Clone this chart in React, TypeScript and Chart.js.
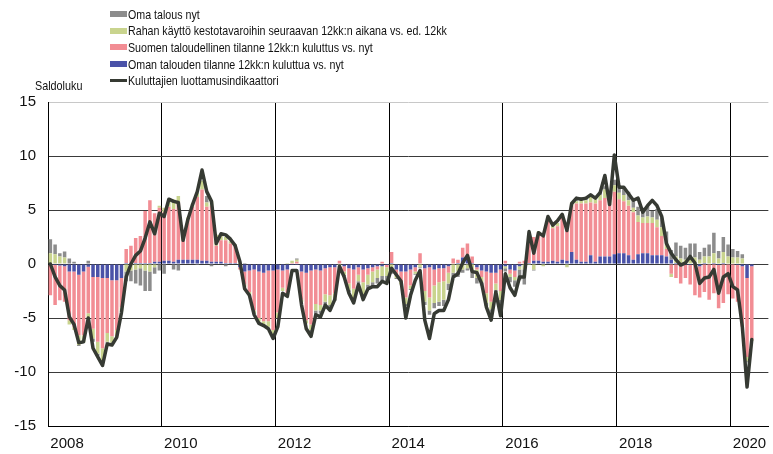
import React, { useEffect, useRef } from 'react';
import { Chart, registerables } from 'chart.js';
Chart.register(...registerables);

const startYear = 2008;
const axisMonths = 152;

// Kuluttajien luottamusindikaattori (line), Jan 2008 – May 2020
const confidence = [
  0.0, -1.2, -2.0, -2.4, -4.9, -5.6, -7.3, -7.2, -5.0, -7.8, -8.6, -9.4,
  -7.4, -7.5, -6.8, -4.5, -1.2, 0.0, 0.8, 1.2, 2.4, 3.9, 2.8, 4.7,
  4.4, 6.0, 5.8, 5.7, 2.2, 4.1, 5.5, 6.7, 8.7, 6.7, 5.8, 1.9,
  2.8, 2.7, 2.3, 1.7, 0.2, -2.3, -2.9, -4.7, -5.5, -5.7, -6.0, -6.9,
  -5.8, -2.7, -3.0, -0.6, -0.6, -3.8, -6.0, -6.7, -4.7, -4.9, -3.8, -4.3,
  -3.3, -0.2, -1.2, -2.7, -3.6, -1.9, -3.3, -2.3, -2.1, -2.1, -1.6, -1.8,
  -0.4, -1.0, -1.6, -5.0, -2.9, -1.5, -0.6, -5.2, -6.9, -4.6, -4.3, -4.3,
  -3.3, -1.2, -0.9, 0.1, 0.8, -0.7, -0.8, -1.8, -4.0, -5.2, -2.6, -4.8,
  -0.9, -2.2, -2.9, -1.2, -1.2, 3.0, 1.0, 2.9, 2.6, 4.4, 3.6, 4.0,
  4.6, 3.1, 5.6, 6.1, 6.0, 6.1, 6.4, 6.1, 6.6, 8.2, 5.5, 10.1,
  7.1, 7.1, 6.5, 5.9, 6.1, 4.8, 5.4, 5.9, 5.4, 4.4, 1.9, 1.0,
  0.4, -0.1, 0.1, 0.7, 0.1, -1.8, -1.3, -1.2, -0.5, -2.7, -1.2, -0.9,
  -2.1, -2.4, -5.8, -11.4, -7.0,
];

// Oman talouden tilanne 12kk:n kuluttua vs. nyt (blue)
const ownEconomyNext = [
  -0.1, -0.1, -0.15, -0.2, -0.7, -0.7, -1.0, -0.7, -0.25, -1.2, -1.2, -1.3,
  -1.3, -1.5, -1.5, -1.3, 0.1, 0.1, 0.1, 0.1, 0.1, 0.1, 0.2, 0.2,
  0.3, 0.3, 0.2, 0.4, 0.4, 0.4, 0.4, 0.4, 0.3, 0.3, 0.2, 0.2,
  0.2, 0.1, 0.1, 0.1, -0.3, -0.7, -0.6, -0.5, -0.7, -0.8, -0.6, -0.6,
  -0.5, -0.6, -0.5, -0.1, -0.1, -0.7, -0.8, -0.6, -0.5, -0.6, -0.4, -0.3,
  -0.3, 0.0, -0.2, -0.4, -0.5, -0.3, -0.5, -0.4, -0.3, -0.2, -0.2, -0.1,
  0.1, -0.5, -0.7, -0.7, -0.5, -0.3, 0.0, -0.4, -0.3, -0.5, -0.4, -0.4,
  -0.2, 0.0, 0.1, 0.6, 0.6, 0.1, -0.3, -0.6, -0.7, -0.8, -0.8, -0.5,
  -0.2, -0.5, -0.6, -0.2, 0.0, 0.1, 0.3, 0.3, 0.2, 0.2, 0.3, 0.2,
  0.4, 0.3, 1.1, 0.4, 0.2, 0.2, 0.8, 0.2, 0.7, 0.7, 0.7, 0.9,
  1.0, 1.0, 0.8, 0.4, 0.9, 1.0, 1.0, 0.8, 0.8, 0.8, 0.7, 0.4,
  0.1, 0.0, -0.1, -0.1, 0.0, -0.2, 0.1, 0.0, 0.1, -0.1, 0.1, 0.0,
  0.0, -0.1, -0.2, -1.3, -0.2,
];

// Suomen taloudellinen tilanne 12kk:n kuluttua vs. nyt (pink)
const finlandEconomyNext = [
  -2.8, -3.7, -3.2, -3.3, -4.5, -5.1, -5.6, -5.9, -4.3, -4.8, -6.0, -6.5,
  -5.1, -5.2, -4.6, -2.7, 1.3, 1.6, 2.3, 2.5, 4.8, 5.8, 4.5, 5.0,
  4.5, 5.0, 4.9, 5.3, 1.8, 3.7, 4.9, 5.8, 6.6, 5.0, 5.2, 1.5,
  2.0, 2.1, 1.8, 1.6, -0.2, -1.2, -2.0, -3.8, -4.3, -4.5, -4.7, -5.5,
  -4.0, -1.6, -2.2, 0.1, 0.2, -2.6, -4.4, -5.0, -3.2, -3.2, -2.4, -2.6,
  -2.4, 0.3, -0.5, -1.4, -1.8, -0.7, -1.2, -0.6, -0.4, -0.3, 0.2, -0.2,
  1.0, -0.5, -0.9, -2.4, -1.5, -0.4, 1.0, -2.1, -2.8, -1.5, -1.3, -1.2,
  -0.6, 0.5, 0.3, 0.9, 1.3, 0.6, -0.2, -0.6, -2.0, -2.7, -1.0, -2.0,
  0.3, -0.4, -0.6, 0.2, 0.3, 2.7, 2.2, 2.6, 2.3, 3.9, 3.0, 3.3,
  4.0, 2.8, 4.3, 5.2, 5.4, 5.4, 4.9, 5.4, 5.2, 5.4, 4.9, 5.8,
  5.0, 4.8, 4.6, 4.4, 3.0, 2.8, 2.8, 3.0, 2.6, 1.8, 0.7, -0.9,
  -1.3, -1.8, -1.2, -1.8, -2.9, -2.9, -2.6, -3.3, -2.7, -4.0, -3.6, -2.8,
  -3.2, -3.4, -5.6, -7.3, -6.8,
];

// Rahan käyttö kestotavaroihin seuraavan 12kk:n aikana vs. ed. 12kk (green)
const durablesSpending = [
  1.0, 0.9, 0.7, 0.6, -0.4, -0.3, -0.9, -0.7, -0.45, -0.9, -1.1, -1.2,
  -0.8, -0.6, -0.6, -0.4, -0.7, -0.6, -0.5, -0.4, -0.6, -0.7, -0.3, 0.2,
  0.4, 0.5, 0.9, 0.6, 0.3, 0.2, 0.3, 0.4, 0.8, 0.4, 0.4, 1.0,
  0.6, 0.3, 0.2, 0.1, 0.1, -0.2, -0.3, -0.3, -0.4, -0.4, -0.5, -0.6,
  -0.5, -0.3, 0.1, 0.2, 0.2, -0.2, -0.3, -0.5, -0.6, -0.5, -0.7, -0.9,
  -0.5, -0.1, -0.3, -0.6, -1.0, -0.6, -1.1, -0.9, -1.0, -0.8, -0.9, -0.8,
  -0.6, -0.3, -0.3, -0.6, -0.3, -0.2, -0.3, -1.0, -1.2, -1.6, -1.8, -1.7,
  -1.0, -0.8, -0.7, -0.5, -0.4, -0.6, -0.8, -0.5, -0.9, -0.7, -0.6, -0.8,
  -0.2, -0.3, -0.3, -0.3, -0.5, -0.1, -0.5, 0.1, -0.2, 0.2, 0.3, 0.3,
  0.2, -0.3, 0.3, 0.2, 0.4, 0.3, 0.5, 0.4, 0.5, 0.8, 0.3, 0.6,
  0.6, 0.6, 0.5, 0.4, 0.6, 0.5, 0.6, 0.5, 0.7, 0.8, 0.5, -0.3,
  0.6, 0.5, 0.4, 0.5, 0.6, 0.4, 0.6, 0.7, 0.9, 0.5, 1.0, 0.7,
  0.6, 0.6, 0.5, -0.4, -0.1,
];

// Oma talous nyt (gray)
const ownEconomyNow = [
  1.3, 0.9, 0.3, 0.55, 0.5, 0.2, -0.1, 0.0, 0.3, -0.3, -0.2, -0.2,
  -0.1, 0.0, 0.0, 0.0, -0.9, -1.0, -1.3, -1.6, -1.9, -1.8, -0.6, -0.6,
  -0.9, 0.0, -0.5, -0.6, 0.0, 0.0, 0.0, -0.1, 0.0, 0.6, -0.2, 0.0,
  0.0, -0.2, 0.0, 0.0, 0.0, 0.1, 0.0, 0.0, 0.0, 0.0, 0.0, 0.0,
  0.0, 0.0, 0.0, 0.0, 0.1, 0.0, 0.0, -0.2, -0.4, -0.3, -0.3, -0.3,
  -0.2, 0.0, -0.1, -0.2, -0.2, -0.2, -0.3, -0.3, -0.4, -0.5, -0.5, -0.6,
  -0.3, -0.1, 0.0, -0.2, -0.1, -0.1, -0.1, -0.3, -0.4, -0.5, -0.4, -0.6,
  -0.6, -0.3, -0.5, -0.3, -0.2, -0.7, -0.5, -0.3, -0.3, -0.5, -0.2, -0.6,
  -0.3, -0.5, -0.6, -1.0, -1.4, 0.0, -0.1, 0.0, 0.0, 0.0, 0.1, 0.0,
  0.0, 0.0, 0.0, 0.1, 0.2, 0.2, 0.3, 0.1, 0.3, 0.3, 0.2, 0.5,
  0.7, 0.7, 0.8, 0.7, 0.8, 0.9, 1.0, 0.6, 1.0, 0.9, 1.1, 0.9,
  1.3, 1.2, 1.1, 1.4, 1.3, 0.7, 0.8, 1.1, 1.9, 0.7, 1.4, 1.1,
  0.8, 0.6, 0.4, -0.1, 0.0,
];

const seriesNames = [
  'Oma talous nyt',
  'Rahan käyttö kestotavaroihin seuraavan 12kk:n aikana vs. ed. 12kk',
  'Suomen taloudellinen tilanne 12kk:n kuluttus vs. nyt',
  'Oman talouden tilanne 12kk:n kuluttua vs. nyt',
  'Kuluttajien luottamusindikaattori',
];
const seriesColors = ['#8c8c8c', '#c9d48e', '#f28d94', '#4a52a8', '#363a33'];
const yAxisTitle = 'Saldoluku';

const FONT = "'Liberation Sans', Arial, Helvetica, sans-serif";

export default function App() {
  const ref = useRef<HTMLCanvasElement>(null);
  useEffect(() => {
    const labels = Array.from({ length: axisMonths }, (_, i) =>
      `${startYear + Math.floor(i / 12)}-${String((i % 12) + 1).padStart(2, '0')}`);
    const barCommon = { stack: 'bars', barPercentage: 0.74, categoryPercentage: 1 };
    const chart = new Chart(ref.current as HTMLCanvasElement, {
      type: 'bar',
      data: {
        labels,
        datasets: [
          {
            type: 'line', label: seriesNames[4], data: confidence, borderColor: seriesColors[4],
            borderWidth: 3.5, pointRadius: 0, tension: 0, stack: 'line',
            borderJoinStyle: 'round', borderCapStyle: 'round',
          } as any,
          { label: seriesNames[3], data: ownEconomyNext, backgroundColor: seriesColors[3], ...barCommon },
          { label: seriesNames[2], data: finlandEconomyNext, backgroundColor: seriesColors[2], ...barCommon },
          { label: seriesNames[1], data: durablesSpending, backgroundColor: seriesColors[1], ...barCommon },
          { label: seriesNames[0], data: ownEconomyNow, backgroundColor: seriesColors[0], ...barCommon },
        ],
      },
      options: {
        responsive: false,
        animation: false,
        layout: { padding: { top: 102, left: 0, right: 0, bottom: 0 } },
        plugins: { legend: { display: false }, tooltip: { enabled: false } },
        scales: {
          x: {
            stacked: true,
            grid: {
              offset: true,
              drawTicks: false,
              lineWidth: 1,
              color: (ctx: any) => (typeof ctx.index === 'number' && ctx.index > 0 && ctx.index % 24 === 0 ? '#000' : 'rgba(0,0,0,0)'),
            },
            border: { display: true, color: '#000' },
            ticks: {
              autoSkip: false, maxRotation: 0, minRotation: 0, align: 'start', padding: 9,
              font: { family: FONT, size: 15 }, color: '#111',
              callback: (_v: any, i: number) => (i % 24 === 0 ? String(startYear + i / 12) : ''),
            },
            afterFit: (s: any) => { s.height = 28; },
          },
          y: {
            stacked: true, min: -15, max: 15,
            ticks: { stepSize: 5, padding: 12, font: { family: FONT, size: 15 }, color: '#111' },
            grid: {
              drawTicks: false,
              color: (ctx: any) => (ctx.tick && ctx.tick.value === 15 ? '#c8c8c8' : '#3a3a3a'),
            },
            border: { display: true, color: '#000' },
            afterFit: (s: any) => { s.width = 48; },
          },
        },
      } as any,
    });
    return () => chart.destroy();
  }, []);

  const rowCenters = [14, 30.7, 47.3, 64, 80.7];
  const textStyle: React.CSSProperties = {
    position: 'absolute', fontFamily: FONT, fontSize: 13, lineHeight: '16px', color: '#111',
    whiteSpace: 'nowrap', transform: 'scaleX(0.82)', transformOrigin: 'left center',
  };

  return (
    <div style={{ position: 'absolute', left: 0, top: 0, width: 773, height: 454, overflow: 'hidden', background: '#fff' }}>
      <canvas ref={ref} width={775} height={454} style={{ position: 'absolute', left: 0, top: 0 }} />
      {seriesNames.map((name, i) => (
        <React.Fragment key={name}>
          {i < 4 ? (
            <div style={{ position: 'absolute', left: 110, top: rowCenters[i] - 3, width: 17, height: 6, background: seriesColors[i] }} />
          ) : (
            <div style={{ position: 'absolute', left: 110, top: rowCenters[i] - 1.5, width: 17, height: 3, background: seriesColors[i] }} />
          )}
          <div style={{ ...textStyle, left: 128, top: rowCenters[i] - 7.5 }}>{name}</div>
        </React.Fragment>
      ))}
      <div style={{ ...textStyle, fontSize: 13.5, transform: 'scaleX(0.8)', left: 35, top: 77.5 }}>{yAxisTitle}</div>
    </div>
  );
}
